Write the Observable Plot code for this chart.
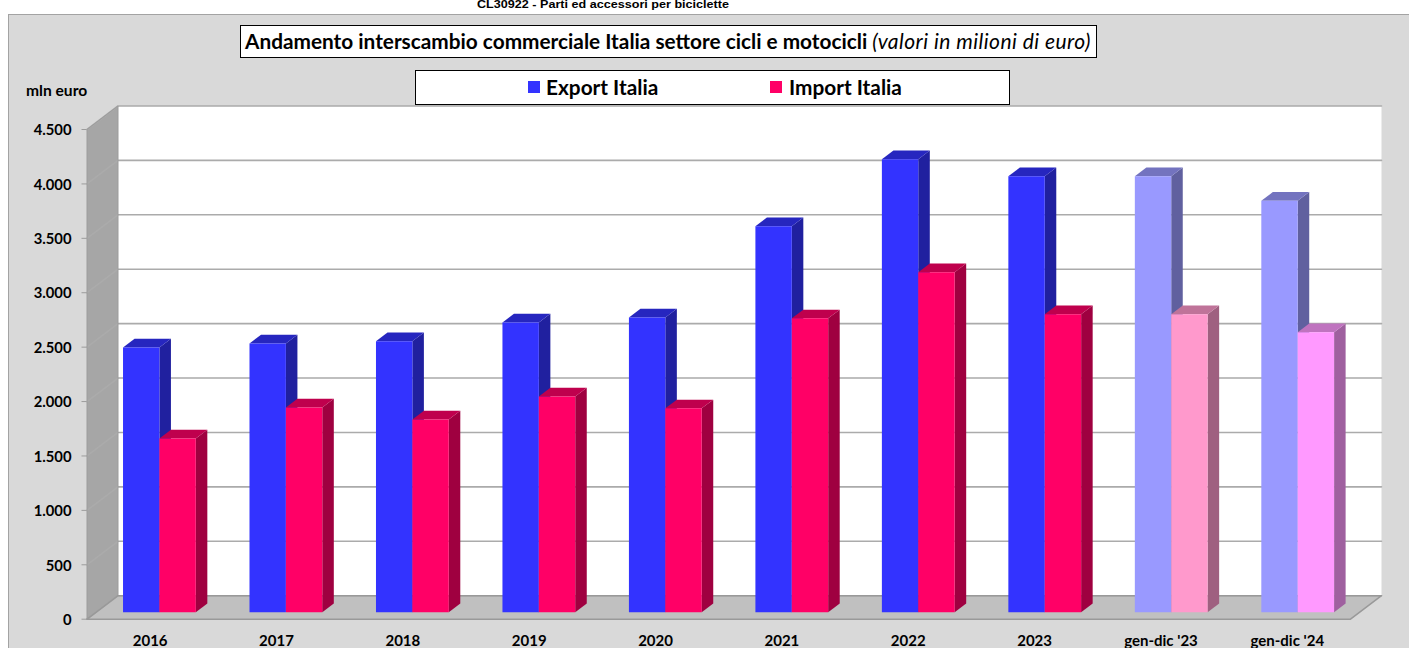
<!DOCTYPE html>
<html><head><meta charset="utf-8">
<script src="https://cdn.jsdelivr.net/npm/d3@7"></script>
<script src="https://cdn.jsdelivr.net/npm/@observablehq/plot@0.6"></script>
<style>
html,body{margin:0;padding:0;width:1409px;height:648px;overflow:hidden;background:#fff;}
#root{position:relative;width:1409px;height:648px;overflow:hidden;font-family:Lato,sans-serif;color:#000;}
#panel{position:absolute;left:8px;top:14px;width:1420px;height:660px;background:#d9d9d9;border:1px solid #a3a3a3;box-sizing:border-box;}
#code{position:absolute;left:477px;top:0;font:bold 12.6px/1 "Liberation Sans",Arial,sans-serif;white-space:nowrap;transform:scale(1,.8);transform-origin:0 0;}
#title{position:absolute;left:240px;top:25px;width:857px;height:33px;box-sizing:border-box;background:#fff;border:1px solid #000;font-size:20.8px;font-weight:bold;line-height:30px;padding-left:4px;white-space:nowrap;}
#title i{font-weight:normal;font-size:21px;letter-spacing:.47px;}
#legend{position:absolute;left:415px;top:70px;width:595px;height:35px;box-sizing:border-box;background:#fff;border:1px solid #000;}
#legend span{position:absolute;font-size:20.8px;font-weight:bold;line-height:31px;white-space:nowrap;}
#legend b{position:absolute;top:10px;width:12px;height:12px;}
#unit{position:absolute;left:26px;top:81px;font-size:15.6px;font-weight:bold;white-space:nowrap;}
#chart{position:absolute;left:0;top:0;}
</style></head>
<body><div id="root">
<div id="panel"></div>
<div id="code">CL30922 - Parti ed accessori per biciclette</div>
<div id="chart"></div>
<div id="title">Andamento interscambio commerciale Italia settore cicli e motocicli <i>(valori in milioni di euro)</i></div>
<div id="legend"><b style="left:112px;background:#3333ff"></b><span style="left:130px">Export Italia</span><b style="left:354px;background:#ff0066"></b><span style="left:373px">Import Italia</span></div>
<div id="unit">mln euro</div>
</div>
<script>
const categories = ["2016","2017","2018","2019","2020","2021","2022","2023","gen-dic '23","gen-dic '24"];
const exportValues = [2433,2470,2489,2663,2709,3546,4162,4005,4005,3780];
const importValues = [1597,1882,1771,1983,1873,2700,3123,2737,2737,2572];
const exportFront = ["#3333ff","#3333ff","#3333ff","#3333ff","#3333ff","#3333ff","#3333ff","#3333ff","#9999ff","#9999ff"];
const importFront = ["#ff0066","#ff0066","#ff0066","#ff0066","#ff0066","#ff0066","#ff0066","#ff0066","#ff99cc","#ff99ff"];
const yTicks = [0,500,1000,1500,2000,2500,3000,3500,4000,4500];

const yMax = 4500, nCat = categories.length;
// oblique projection of the chart's depth, in data units
const unitX = 126.35, unitY = 0.10878;
const depthX = 31 / unitX, depthY = 23.5 / unitY;
const barD0 = 0.298, barD1 = 0.67, barW = 0.288, barStep = 1.001;
const px = (x, d) => x + d * depthX;
const py = (v, d) => v + d * depthY;
const shade = (c, k) => { const r = d3.rgb(c); return d3.rgb(r.r * k, r.g * k, r.b * k).formatHex(); };

const polys = [];
function poly(id, fill, pts) { pts.forEach(([x, v, d]) => polys.push({id, fill, x: px(x, d), y: py(v, d)})); }
function bar(id, x0, x1, v, c) {
  poly(id + "s", shade(c, 0.625), [[x1,0,barD0],[x1,v,barD0],[x1,v,barD1],[x1,0,barD1]]);
  poly(id + "t", shade(c, 0.75), [[x0,v,barD0],[x1,v,barD0],[x1,v,barD1],[x0,v,barD1]]);
  poly(id + "f", c, [[x0,0,barD0],[x1,0,barD0],[x1,v,barD0],[x0,v,barD0]]);
}
categories.forEach((c, i) => {
  const m = i * barStep + 0.5;
  bar("e" + i, m - barW, m, exportValues[i], exportFront[i]);
  bar("i" + i, m, m + barW, importValues[i], importFront[i]);
});

const project = pts => pts.map(([x,v,d]) => ({x: px(x,d), y: py(v,d)}));
const wallSide = project([[0,0,0],[0,yMax,0],[0,yMax,1],[0,0,1]]);
const wallBack = project([[0,0,1],[0,yMax,1],[nCat,yMax,1],[nCat,0,1]]);
const floor = project([[0,0,0],[nCat,0,0],[nCat,0,1],[0,0,1]]);
const floorEdge = project([[0,0,1],[0,0,0],[nCat,0,0],[nCat,0,1],[0,0,1]]);
const grid = yTicks.flatMap(v => project([[0,v,0],[0,v,1],[nCat,v,1]]).map(p => ({...p, t: v})));

const fmt = d => d3.format(",")(d).replace(/,/g, ".");
const edge = "#ababab";

const chart = Plot.plot({
  width: 1409, height: 648,
  marginLeft: 86.5, marginRight: 59, marginTop: 129, marginBottom: 29.3,
  style: {background: "transparent", fontFamily: "Lato, sans-serif", overflow: "visible"},
  x: {domain: [0, nCat]},
  y: {domain: [0, yMax]},
  color: {type: "identity"},
  marks: [
    Plot.line(wallSide, {x: "x", y: "y", fill: "#a6a6a6", stroke: "none"}),
    Plot.line(wallBack, {x: "x", y: "y", fill: "#ffffff", stroke: "none"}),
    Plot.line(floor, {x: "x", y: "y", fill: "#c0c0c0", stroke: "none"}),
    Plot.line(grid, {x: "x", y: "y", z: "t", stroke: edge, strokeWidth: 1.6}),
    Plot.line(wallSide, {x: "x", y: "y", stroke: "#9c9c9c", strokeWidth: 1}),
    Plot.line(floorEdge, {x: "x", y: "y", stroke: "#999999", strokeWidth: 1.5}),
    Plot.line(polys, {x: "x", y: "y", z: "id", fill: "fill", stroke: "none"}),
    Plot.ruleY(yTicks, {x1: -5 / unitX, x2: 0, stroke: "#9c9c9c"}),
    Plot.axisY({ticks: yTicks, tickFormat: fmt, tickSize: 0, tickPadding: 15.5, dy: 1, fill: "#000",
                fontSize: 14.8, fontWeight: "bold", label: null}),
    Plot.axisX({ticks: categories.map((c, i) => i + 0.5), tickFormat: d => categories[Math.floor(d)], tickSize: 0, tickPadding: 16,
                fontSize: 15, fontWeight: "bold", fill: "#000", label: null})
  ]
});
document.getElementById("chart").appendChild(chart);
</script>
</body></html>
